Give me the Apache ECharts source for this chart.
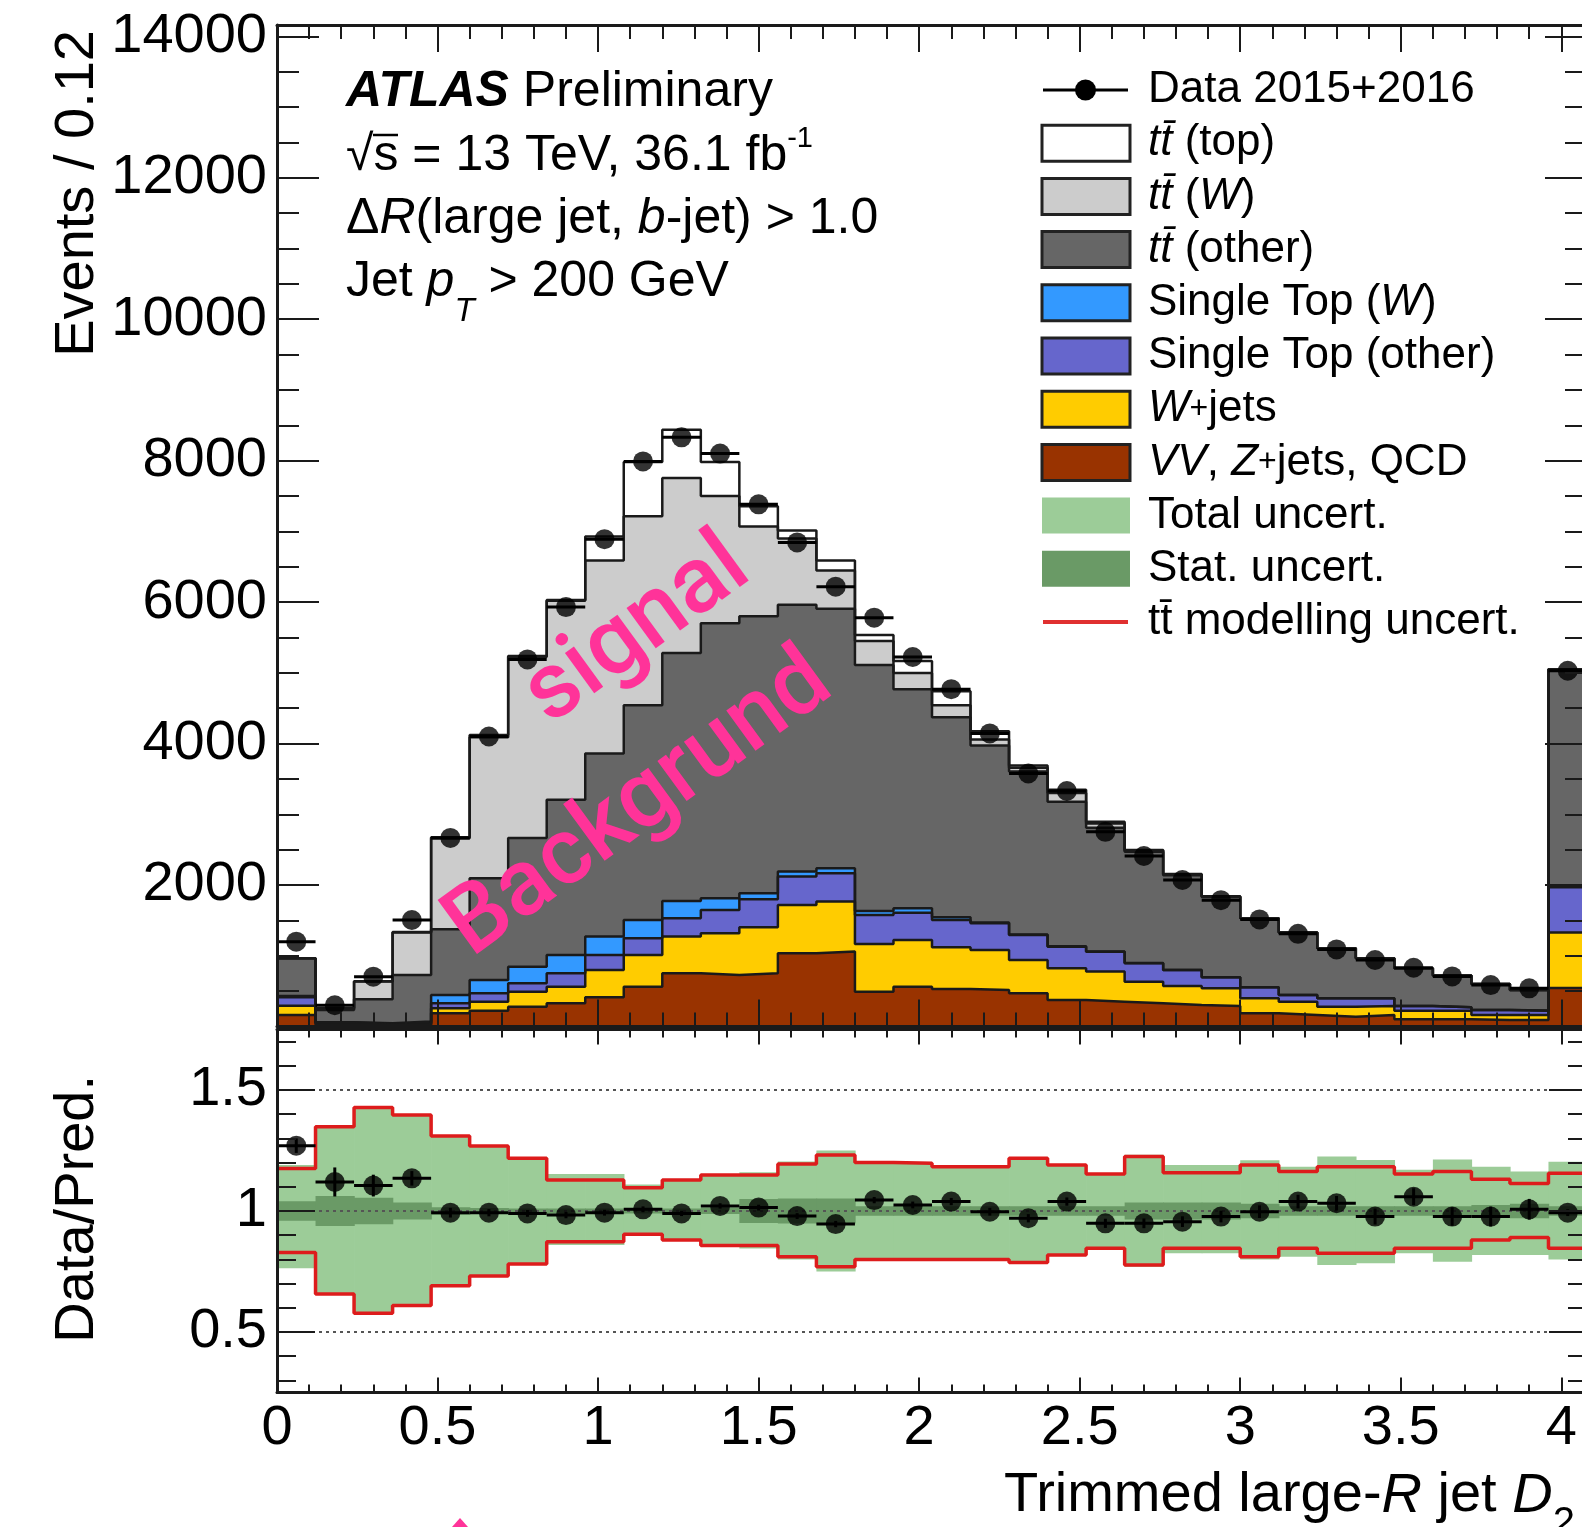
<!DOCTYPE html>
<html>
<head>
<meta charset="utf-8">
<title>Trimmed large-R jet D2</title>
<script src="https://cdn.jsdelivr.net/npm/echarts@6.0.0/dist/echarts.min.js"></script>
<style>
html, body { margin: 0; padding: 0; background: #fff; }
#chart { width: 1582px; height: 1527px; }
</style>
</head>
<body>
<div id="chart"></div>
<script>
(function () {

	// 34 bins of 0.12, the last one is the overflow bin
	var binWidth = 0.12;
	var nBins = 34;

	// events per bin for each sample, bottom of the stack first
	var vvZjetsQcd     = [163, 30, 20, 20, 186, 224, 281, 328, 413, 563, 752, 729, 752, 1035, 1059, 493, 563, 530, 516, 469, 375, 351, 328, 304, 290, 186, 163, 139, 163, 101, 101, 92, 92, 545];
	var wJets          = [132, 15, 10, 15, 71, 127, 212, 235, 386, 448, 519, 589, 651, 684, 707, 673, 661, 590, 566, 472, 448, 425, 306, 269, 250, 212, 188, 142, 127, 123, 123, 71, 71, 785];
	var singleTopOther = [118, 10, 10, 15, 71, 118, 118, 189, 212, 235, 259, 330, 396, 401, 401, 412, 386, 386, 377, 353, 306, 282, 260, 226, 155, 156, 95, 117, 108, 66, 47, 70, 61, 640];
	var singleTopW     = [17, 5, 5, 20, 118, 189, 235, 259, 260, 260, 245, 165, 85, 70, 70, 56, 62, 38, 11, 6, 6, 4, 3, 1, 2, 1, 1, 1, 1, 1, 1, 1, 1, 5];
	var ttOther        = [535, 175, 340, 658, 929, 1438, 1820, 2195, 2589, 3037, 3506, 3887, 3916, 3773, 3670, 3476, 3098, 2828, 2504, 2305, 2043, 1747, 1573, 1340, 1133, 975, 883, 707, 565, 532, 448, 366, 291, 3075];
	var ttW            = [0, 20, 250, 602, 1285, 1992, 2560, 2812, 2729, 2670, 2473, 1800, 1271, 938, 539, 342, 227, 171, 85, 55, 122, 61, 20, 10, 8, 0, 0, 0, 0, 0, 0, 0, 0, 0];
	var ttTop          = [0, 5, 5, 5, 15, 32, 14, 12, 340, 767, 682, 480, 284, 113, 142, 85, 171, 198, 114, 30, 49, 24, 6, 7, 2, 0, 0, 0, 0, 0, 0, 0, 0, 0];
	var dataEvents     = [1200, 300, 705, 1506, 2666, 4100, 5190, 5930, 6890, 7990, 8330, 8100, 7383, 6844, 6219, 5780, 5225, 4770, 4144, 3577, 3329, 2752, 2411, 2071, 1786, 1514, 1310, 1090, 940, 830, 708, 585, 540, 5030];

	// ratio panel
	var ratioData  = [1.27, 1.12, 1.105, 1.135, 0.993, 0.993, 0.99, 0.983, 0.993, 1.007, 0.99, 1.021, 1.014, 0.979, 0.946, 1.045, 1.025, 1.039, 0.997, 0.97, 1.039, 0.949, 0.949, 0.956, 0.977, 0.997, 1.039, 1.032, 0.977, 1.059, 0.977, 0.977, 1.007, 0.993];
	var ratioErr   = [0.03, 0.06, 0.045, 0.03, 0.02, 0.015, 0.014, 0.013, 0.012, 0.012, 0.011, 0.011, 0.012, 0.012, 0.013, 0.013, 0.014, 0.015, 0.016, 0.017, 0.017, 0.019, 0.02, 0.022, 0.024, 0.026, 0.028, 0.03, 0.033, 0.035, 0.038, 0.041, 0.043, 0.014];
	var totalUp    = [1.19, 1.348, 1.428, 1.397, 1.31, 1.269, 1.218, 1.153, 1.153, 1.11, 1.128, 1.149, 1.16, 1.205, 1.25, 1.205, 1.2, 1.183, 1.183, 1.218, 1.19, 1.153, 1.232, 1.19, 1.19, 1.21, 1.183, 1.225, 1.211, 1.17, 1.213, 1.183, 1.163, 1.204];
	var totalDown  = [0.763, 0.657, 0.577, 0.609, 0.691, 0.731, 0.781, 0.86, 0.86, 0.9, 0.88, 0.857, 0.845, 0.8, 0.75, 0.795, 0.8, 0.797, 0.797, 0.787, 0.818, 0.846, 0.77, 0.825, 0.825, 0.8, 0.811, 0.777, 0.784, 0.825, 0.79, 0.818, 0.818, 0.8];
	var statHalf   = [0.04, 0.062, 0.055, 0.035, 0.015, 0.012, 0.01, 0.01, 0.01, 0.01, 0.01, 0.012, 0.05, 0.052, 0.052, 0.02, 0.02, 0.02, 0.02, 0.02, 0.02, 0.02, 0.035, 0.035, 0.035, 0.03, 0.02, 0.02, 0.02, 0.02, 0.02, 0.025, 0.03, 0.02];
	var modelUp    = [1.176, 1.348, 1.428, 1.397, 1.31, 1.269, 1.218, 1.128, 1.128, 1.096, 1.128, 1.149, 1.149, 1.194, 1.231, 1.2, 1.197, 1.183, 1.183, 1.218, 1.19, 1.153, 1.225, 1.158, 1.158, 1.19, 1.163, 1.183, 1.183, 1.153, 1.163, 1.131, 1.114, 1.156];
	var modelDown  = [0.829, 0.657, 0.577, 0.609, 0.691, 0.731, 0.781, 0.873, 0.873, 0.904, 0.88, 0.857, 0.857, 0.811, 0.77, 0.8, 0.8, 0.8, 0.8, 0.787, 0.818, 0.846, 0.777, 0.846, 0.846, 0.811, 0.846, 0.825, 0.825, 0.846, 0.846, 0.88, 0.891, 0.846];

	// tick labels
	var xMajorTicks  = [0, 0.5, 1, 1.5, 2, 2.5, 3, 3.5, 4];
	var yMainLabels  = [2000, 4000, 6000, 8000, 10000, 12000, 14000];
	var yMainMajor   = [0, 2000, 4000, 6000, 8000, 10000, 12000, 14000];
	var yRatioLabels = [0.5, 1, 1.5];

	var FAM = '"Liberation Sans", Arial, Helvetica, sans-serif';
	var INK = '#1a1a1a';
	var xRange = [0, nBins * binWidth];
	var yMainRange = [0, 14160];
	var yRatioRange = [0.25, 1.75];

	var edges = [];
	for (var e = 0; e <= nBins; e++) edges.push(+(e * binWidth).toFixed(2));

	function minorTicks(lo, hi, step, majorStep) {
		var out = [];
		for (var v = lo; v <= hi + 1e-9; v += step) {
			var r = Math.round(v / step) * step;
			var q = r / majorStep;
			if (Math.abs(q - Math.round(q)) > 1e-6) out.push(+r.toFixed(4));
		}
		return out;
	}
	var xMinor = minorTicks(0.1, 4.0, 0.1, 0.5);
	var yMainMinor = minorTicks(500, 14000, 500, 2000);
	var yRatioMinor = minorTicks(0.3, 1.7, 0.1, 0.5);

	function axis(grid, pos, range, ticks, len, withLine, labels, labelMargin, labelPad) {
		var a = {
			type: 'value', gridIndex: grid, position: pos,
			min: range[0], max: range[1], z: 20, silent: true,
			axisLine: { show: withLine, onZero: false, lineStyle: { color: INK, width: 3 } },
			axisTick: { show: true, inside: true, length: len, customValues: ticks, lineStyle: { color: INK, width: 2 } },
			axisLabel: { show: false },
			splitLine: { show: false }
		};
		if (labels) {
			a.axisLabel = {
				show: true, customValues: labels, margin: labelMargin, padding: labelPad || 0,
				fontSize: 56, fontFamily: FAM, color: '#000',
				formatter: function (v) { return String(v); }
			};
		}
		return a;
	}

	var xAxes = [
		axis(0, 'bottom', xRange, xMajorTicks, 27, true),
		axis(0, 'bottom', xRange, xMinor, 14, false),
		axis(0, 'top', xRange, xMajorTicks, 27, true),
		axis(0, 'top', xRange, xMinor, 14, false),
		axis(1, 'bottom', xRange, xMajorTicks, 15, true, xMajorTicks, 8),
		axis(1, 'bottom', xRange, xMinor, 8, false),
		axis(1, 'top', xRange, xMajorTicks, 15, true),
		axis(1, 'top', xRange, xMinor, 8, false)
	];
	var yAxes = [
		axis(0, 'left', yMainRange, yMainMajor, 42, true, yMainLabels, 10, [6, 0, 0, 0]),
		axis(0, 'left', yMainRange, yMainMinor, 22, false),
		axis(0, 'right', yMainRange, yMainMajor, 42, true),
		axis(0, 'right', yMainRange, yMainMinor, 22, false),
		axis(1, 'left', yRatioRange, yRatioLabels, 38, true, yRatioLabels, 10),
		axis(1, 'left', yRatioRange, yRatioMinor, 19, false),
		axis(1, 'right', yRatioRange, yRatioLabels, 38, true),
		axis(1, 'right', yRatioRange, yRatioMinor, 19, false)
	];

	// stacked step histograms, drawn from the top of the stack down
	var stackLayers = [
		{ values: vvZjetsQcd, fill: '#993300' },
		{ values: wJets, fill: '#ffcc00' },
		{ values: singleTopOther, fill: '#6666cc' },
		{ values: singleTopW, fill: '#3399ff' },
		{ values: ttOther, fill: '#666666' },
		{ values: ttW, fill: '#cccccc' },
		{ values: ttTop, fill: '#ffffff' }
	];
	var running = [];
	for (var b = 0; b < nBins; b++) running.push(0);
	stackLayers.forEach(function (layer) {
		layer.top = running.map(function (r, i) { return r + layer.values[i]; });
		running = layer.top;
	});

	function stepData(vals) {
		var pts = vals.map(function (v, i) { return [edges[i], v]; });
		pts.push([edges[nBins], vals[nBins - 1]]);
		return pts;
	}

	var series = [];
	for (var s = stackLayers.length - 1; s >= 0; s--) {
		series.push({
			type: 'line', xAxisIndex: 0, yAxisIndex: 0, step: 'end',
			data: stepData(stackLayers[s].top), symbol: 'none', silent: true,
			lineStyle: { color: INK, width: 2.5 },
			areaStyle: { color: stackLayers[s].fill, opacity: 1 },
			z: 2
		});
	}

	function hBars(xIdx, yIdx, vals, errs) {
		return {
			type: 'custom', xAxisIndex: xIdx, yAxisIndex: yIdx, silent: true, z: 6,
			data: vals.map(function (v, i) { return [edges[i], edges[i + 1], v, errs ? errs[i] : 0]; }),
			encode: { x: [0, 1], y: 2 },
			renderItem: function (params, api) {
				var y = api.value(2), err = api.value(3);
				var a = api.coord([api.value(0), y]);
				var c = api.coord([api.value(1), y]);
				var mid = api.coord([(api.value(0) + api.value(1)) / 2, y + err]);
				var low = api.coord([(api.value(0) + api.value(1)) / 2, y - err]);
				return {
					type: 'group', children: [
						{ type: 'line', shape: { x1: a[0], y1: a[1], x2: c[0], y2: c[1] }, style: { stroke: '#000', lineWidth: 3 } },
						{ type: 'line', shape: { x1: mid[0], y1: mid[1], x2: low[0], y2: low[1] }, style: { stroke: '#000', lineWidth: 3 } }
					]
				};
			}
		};
	}
	function dots(xIdx, yIdx, vals) {
		return {
			type: 'scatter', xAxisIndex: xIdx, yAxisIndex: yIdx, silent: true, z: 7,
			symbol: 'circle', symbolSize: 20, itemStyle: { color: '#000' },
			data: vals.map(function (v, i) { return [(edges[i] + edges[i + 1]) / 2, v]; })
		};
	}
	function bands(lo, hi, fill, z) {
		return {
			type: 'custom', xAxisIndex: 4, yAxisIndex: 4, silent: true, z: z,
			data: lo.map(function (v, i) { return [edges[i], edges[i + 1], v, hi[i]]; }),
			encode: { x: [0, 1], y: [2, 3] },
			renderItem: function (params, api) {
				var p0 = api.coord([api.value(0), api.value(3)]);
				var p1 = api.coord([api.value(1), api.value(2)]);
				return { type: 'rect', shape: { x: p0[0], y: p0[1], width: p1[0] - p0[0] + 0.7, height: p1[1] - p0[1] }, style: { fill: fill } };
			}
		};
	}

	series.push(hBars(0, 0, dataEvents));
	series.push(dots(0, 0, dataEvents));

	series.push(bands(totalDown, totalUp, '#9ccc98', 2));
	series.push(bands(
		statHalf.map(function (h) { return 1 - h; }),
		statHalf.map(function (h) { return 1 + h; }),
		'#6a9a66', 3));
	series.push({
		type: 'line', xAxisIndex: 4, yAxisIndex: 4, step: 'end', symbol: 'none', silent: true, z: 4,
		data: stepData(modelUp), lineStyle: { color: '#dd1c1c', width: 3.5 },
		markLine: {
			silent: true, symbol: 'none', label: { show: false },
			lineStyle: { color: '#555', type: [3, 4], width: 2 },
			data: [{ yAxis: 0.5 }, { yAxis: 1 }, { yAxis: 1.5 }]
		}
	});
	series.push({
		type: 'line', xAxisIndex: 4, yAxisIndex: 4, step: 'end', symbol: 'none', silent: true, z: 4,
		data: stepData(modelDown), lineStyle: { color: '#dd1c1c', width: 3.5 }
	});
	series.push(hBars(4, 4, ratioData, ratioErr));
	series.push(dots(4, 4, ratioData));

	// texts, legend and the pink notes
	function font(size, style, weight) {
		return { fontSize: size, fontFamily: FAM, fontStyle: style || 'normal', fontWeight: weight || 'normal', fill: '#000' };
	}
	function richText(x, y, text, size, rich, extra) {
		var st = font(size);
		st.text = text;
		st.rich = rich;
		st.align = 'left';
		st.verticalAlign = 'middle';
		for (var k in extra) st[k] = extra[k];
		return { type: 'text', x: x, y: y, z: 100, silent: true, style: st };
	}
	function withLH(o, lh, va) { o.lineHeight = lh; if (va) o.verticalAlign = va; return o; }

	var graphics = [];
	var infoSize = 50;
	graphics.push(richText(346, 92, '{b|ATLAS}{n| Preliminary}', infoSize, {
		b: font(infoSize, 'italic', 'bold'), n: font(infoSize)
	}));
	graphics.push(richText(346, 156, '{n|\u221As = 13 TeV, 36.1 fb}{sup|-1}', infoSize, {
		n: withLH(font(infoSize), 64), sup: withLH(font(29), 29, 'top')
	}));
	// bar over the s of the square root
	graphics.push({ type: 'line', z: 100, silent: true, shape: { x1: 373, y1: 135, x2: 398, y2: 135 }, style: { stroke: '#000', lineWidth: 2.5 } });
	graphics.push(richText(346, 219, '{n|\u0394}{i|R}{n|(large jet, }{i|b}{n|-jet) > 1.0}', infoSize, {
		n: font(infoSize), i: font(infoSize, 'italic')
	}));
	graphics.push(richText(346, 282, '{n|Jet }{i|p}{sub|T}{n| > 200 GeV}', infoSize, {
		n: withLH(font(infoSize), 92), i: withLH(font(infoSize, 'italic'), 92), sub: withLH(font(33, 'italic'), 33, 'bottom')
	}));

	// axis titles
	graphics.push({ type: 'text', x: 78, y: 30, rotation: Math.PI / 2, z: 100, silent: true,
		style: { text: 'Events / 0.12', fontSize: 56, fontFamily: FAM, fill: '#000', align: 'right', verticalAlign: 'middle' } });
	graphics.push({ type: 'text', x: 78, y: 1075, rotation: Math.PI / 2, z: 100, silent: true,
		style: { text: 'Data/Pred.', fontSize: 56, fontFamily: FAM, fill: '#000', align: 'right', verticalAlign: 'middle' } });
	graphics.push(richText(1004, 1496, '{n|Trimmed large-}{i|R}{n| jet }{i|D}{sub|2}', 56, {
		n: withLH(font(56), 96), i: withLH(font(56, 'italic'), 96), sub: withLH(font(40), 40, 'bottom')
	}));

	// legend
	var legendSize = 44;
	var legendRows = [
		{ text: '{n|Data 2015+2016}', kind: 'data' },
		{ text: '{i|tt\u0304}{n| (top)}', fill: '#ffffff' },
		{ text: '{i|tt\u0304}{n| (}{i|W}{n|)}', fill: '#cccccc' },
		{ text: '{i|tt\u0304}{n| (other)}', fill: '#666666' },
		{ text: '{n|Single Top (}{i|W}{n|)}', fill: '#3399ff' },
		{ text: '{n|Single Top (other)}', fill: '#6666cc' },
		{ text: '{i|W}{s|+}{n|jets}', fill: '#ffcc00' },
		{ text: '{i|VV}{n|, }{i|Z}{s|+}{n|jets, QCD}', fill: '#993300' },
		{ text: '{n|Total uncert.}', fill: '#9ccc98', plain: true },
		{ text: '{n|Stat. uncert.}', fill: '#6a9a66', plain: true },
		{ text: '{n|tt\u0304 modelling uncert.}', kind: 'line' }
	];
	var legendRich = { n: font(legendSize), i: font(legendSize, 'italic'), s: font(32) };
	legendRows.forEach(function (row, k) {
		var cy = 90 + 53.2 * k;
		if (row.kind === 'data') {
			graphics.push({ type: 'line', z: 100, silent: true, shape: { x1: 1043, y1: cy, x2: 1128, y2: cy }, style: { stroke: '#000', lineWidth: 3 } });
			graphics.push({ type: 'circle', z: 100, silent: true, shape: { cx: 1085.5, cy: cy, r: 10.5 }, style: { fill: '#000' } });
		} else if (row.kind === 'line') {
			graphics.push({ type: 'line', z: 100, silent: true, shape: { x1: 1043, y1: cy, x2: 1128, y2: cy }, style: { stroke: '#e03030', lineWidth: 4 } });
		} else {
			graphics.push({ type: 'rect', z: 100, silent: true, shape: { x: 1042, y: cy - 18, width: 88, height: 36 },
				style: row.plain ? { fill: row.fill } : { fill: row.fill, stroke: '#222', lineWidth: 3 } });
		}
		graphics.push(richText(1148, cy, row.text, legendSize, legendRich));
	});

	// pink notes on the picture
	var pinkFont = { fontSize: 94, fontFamily: 'Roboto, "Liberation Sans", sans-serif', fontWeight: 500, fill: '#ff3399', align: 'center', verticalAlign: 'middle' };
	graphics.push({ type: 'text', x: 638, y: 632, rotation: 0.63, z: 110, silent: true, style: Object.assign({ text: 'signal' }, pinkFont) });
	graphics.push({ type: 'text', x: 640, y: 806, rotation: 0.63, z: 110, silent: true, style: Object.assign({ text: 'Backgrund' }, pinkFont) });
	graphics.push({ type: 'polygon', z: 110, silent: true, shape: { points: [[460, 1518], [452, 1527], [468, 1527]] }, style: { fill: '#ff3399' } });

	var option = {
		animation: false,
		backgroundColor: '#ffffff',
		grid: [
			{ left: 277, top: 25, width: 1310, height: 1001.5, outerBoundsMode: 'none' },
			{ left: 277, top: 1029.5, width: 1310, height: 363, outerBoundsMode: 'none' }
		],
		xAxis: xAxes,
		yAxis: yAxes,
		series: series,
		graphic: { elements: graphics }
	};

	var chart = echarts.init(document.getElementById('chart'));
	chart.setOption(option);

})();
</script>
</body>
</html>
